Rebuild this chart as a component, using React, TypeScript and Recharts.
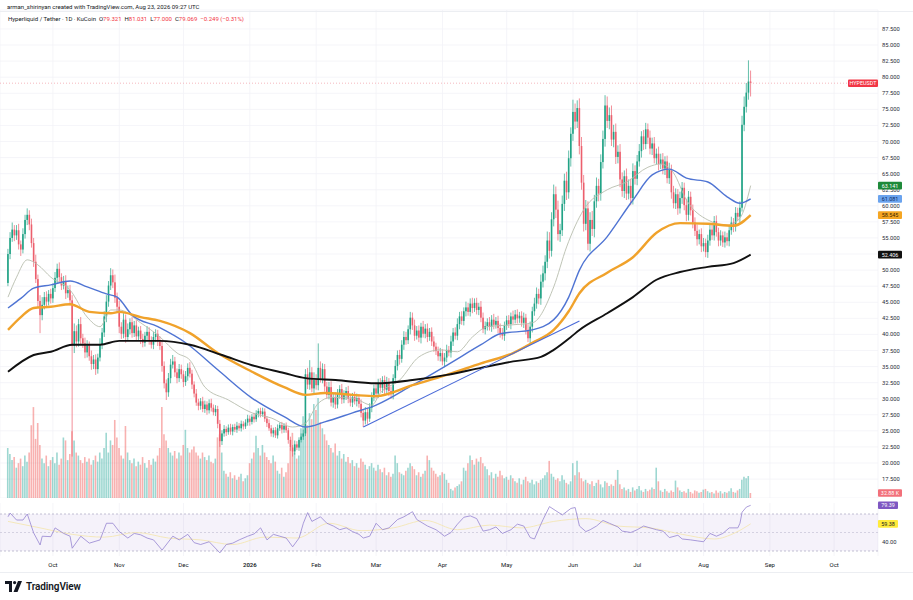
import React from 'react';
import {
  ComposedChart,
  Bar,
  Line,
  XAxis,
  YAxis,
  CartesianGrid,
  ReferenceLine,
  ReferenceArea,
  Cell,
} from 'recharts';

const UP = '#22a386';
const DOWN = '#ec5f6d';
const VOL_UP = 'rgba(38,166,154,0.45)';
const VOL_DOWN = 'rgba(239,83,80,0.45)';

// x is a day index: day 0 = 10 Sep 2025, day 347 = 23 Aug 2026
const X_DOMAIN = [-3.74, 406.5];
const P_DOMAIN = [14.56, 90.45];
const V_DOMAIN = [0, 3220];
const R_DOMAIN = [24.6, 81.9];

const monthTicks = [21, 52, 82, 113, 144, 172, 203, 233, 264, 294, 325, 356, 386];
const monthLabels = ['Oct', 'Nov', 'Dec', '2026', 'Feb', 'Mar', 'Apr', 'May', 'Jun', 'Jul', 'Aug', 'Sep', 'Oct'];
const priceTicks = [
  17.5, 20, 22.5, 25, 27.5, 30, 32.5, 35, 37.5, 40, 42.5, 45, 47.5, 50, 52.5,
  55, 57.5, 60, 62.5, 65, 67.5, 70, 72.5, 75, 77.5, 80, 82.5, 85, 87.5,
];
const rsiTicks = [40];

const firstOpen = 48.0;
const closes = [
  52.5, 55.0, 56.3, 55.4, 56.2, 54.0, 53.2, 55.6, 57.8, 58.6, // 0
  57.1, 54.2, 51.3, 48.6, 45.2, 43.0, 44.6, 45.8, 45.1, 46.3, // 10
  45.6, 47.2, 48.8, 50.2, 48.9, 47.6, 48.3, 46.4, 46.9, 45.3, // 20
  38.2, 40.5, 38.9, 41.6, 39.4, 38.6, 37.2, 38.3, 36.6, 35.4, // 30
  36.1, 34.6, 36.4, 38.5, 40.3, 42.8, 45.1, 47.6, 49.2, 48.1, // 40
  45.7, 44.3, 41.2, 40.1, 42.3, 39.6, 40.8, 41.9, 40.2, 41.4, // 50
  39.7, 40.6, 39.3, 38.7, 39.8, 40.4, 39.1, 38.4, 39.6, 40.1, // 60
  38.9, 38.2, 35.1, 32.4, 31.0, 33.2, 35.3, 35.8, 34.1, 33.2, // 70
  34.6, 33.8, 32.6, 33.5, 34.8, 33.9, 32.2, 30.8, 29.4, 28.9, // 80
  29.6, 28.4, 29.1, 28.2, 29.3, 28.6, 27.9, 28.4, 26.1, 23.4, // 90
  24.6, 25.3, 24.8, 25.5, 24.9, 25.6, 25.2, 25.8, 25.4, 26.1, // 100
  25.7, 26.3, 26.9, 26.4, 27.2, 26.8, 27.7, 28.1, 27.6, 28.0, // 110
  26.9, 26.2, 25.4, 24.6, 25.1, 24.3, 25.4, 25.9, 25.2, 25.8, // 120
  25.1, 23.6, 22.4, 21.8, 22.9, 22.4, 23.6, 24.1, 24.6, 33.8, // 130
  32.2, 34.1, 31.6, 32.9, 32.1, 34.8, 33.1, 34.6, 31.9, 30.6, // 140
  31.8, 29.4, 30.2, 29.1, 30.8, 31.5, 29.9, 30.6, 31.2, 30.0, // 150
  29.4, 30.3, 29.6, 30.1, 29.2, 27.8, 26.6, 27.9, 26.9, 28.6, // 160
  30.2, 31.6, 30.8, 32.4, 31.7, 32.9, 31.4, 32.6, 31.2, 30.7, // 170
  33.2, 35.1, 36.8, 36.2, 38.4, 39.6, 39.1, 40.8, 42.6, 41.4, // 180
  39.8, 40.6, 39.5, 41.2, 40.1, 40.9, 39.6, 40.4, 38.9, 38.1, // 190
  37.4, 36.6, 37.1, 35.8, 36.4, 37.6, 37.2, 38.9, 40.3, 39.8, // 200
  41.6, 42.8, 42.1, 43.6, 44.2, 43.5, 44.8, 44.1, 44.9, 43.8, // 210
  44.3, 42.6, 40.8, 41.3, 41.9, 41.2, 42.3, 41.5, 42.1, 41.0, // 220
  40.2, 39.8, 41.4, 42.2, 41.6, 42.8, 42.3, 43.1, 42.5, 42.9, // 230
  41.8, 42.6, 40.7, 39.4, 41.2, 43.6, 44.8, 46.3, 45.6, 48.2, // 240
  49.5, 51.3, 54.6, 53.0, 57.9, 61.8, 59.4, 55.6, 56.2, 60.3, // 250
  63.9, 62.1, 67.4, 71.2, 74.6, 73.1, 75.2, 69.3, 63.6, 57.2, // 260
  59.6, 54.1, 57.8, 56.4, 60.7, 63.1, 61.9, 66.8, 70.4, 75.6, // 270
  73.2, 74.1, 70.3, 71.5, 67.6, 68.4, 64.1, 62.3, 64.6, 61.9, // 280
  63.1, 61.2, 65.4, 64.2, 66.9, 68.5, 70.8, 69.6, 71.9, 70.6, // 290
  68.9, 69.7, 67.4, 68.1, 66.5, 67.2, 65.8, 66.9, 64.3, 65.6, // 300
  62.1, 60.4, 61.8, 59.6, 61.2, 62.8, 60.1, 58.6, 61.4, 59.3, // 310
  57.4, 56.1, 54.8, 55.6, 53.7, 54.2, 52.8, 54.6, 56.3, 55.4, // 320
  57.6, 55.9, 54.6, 55.4, 54.3, 55.1, 54.5, 56.2, 57.4, 56.8, // 330
  58.9, 58.3, 59.7, 72.6, 75.4, 77.6, 79.321, 79.069, // 340
];

// wick length above max(open, close)
const wickUp = [
  0.8, 0.9, 1.1, 0.7, 0.8, 1.0, 0.6, 0.9, 0.8, 1.0,
  0.7, 0.9, 0.8, 1.1, 0.7, 0.9, 1.2, 0.8, 0.9, 0.6,
  0.8, 0.7, 0.9, 0.8, 1.0, 0.6, 0.8, 0.9, 0.7, 0.8,
  0.8, 1.2, 0.9, 0.8, 1.1, 0.7, 0.9, 0.8, 0.6, 0.9,
  0.7, 0.8, 0.6, 0.9, 0.7, 0.8, 1.0, 0.7, 1.1, 0.9,
  1.2, 0.8, 0.9, 0.7, 1.0, 0.8, 0.9, 0.6, 0.8, 0.7,
  0.8, 0.6, 0.7, 0.8, 0.6, 0.9, 0.7, 0.6, 0.8, 0.7,
  0.6, 0.8, 0.9, 0.7, 0.6, 0.8, 0.9, 1.0, 0.7, 0.6,
  0.8, 0.7, 0.6, 0.8, 0.7, 0.9, 0.6, 0.5, 0.7, 0.6,
  0.5, 0.7, 0.6, 0.5, 0.6, 0.7, 0.5, 0.6, 0.5, 0.6,
  0.5, 0.6, 0.4, 0.5, 0.6, 0.4, 0.5, 0.6, 0.4, 0.5,
  0.4, 0.5, 0.6, 0.5, 0.4, 0.6, 0.5, 0.4, 0.5, 0.6,
  0.5, 0.4, 0.6, 0.5, 0.4, 0.5, 0.6, 0.4, 0.5, 0.4,
  0.5, 0.4, 0.5, 0.4, 0.6, 0.5, 0.4, 0.5, 0.6, 0.8,
  1.0, 1.9, 0.8, 1.2, 0.9, 3.8, 1.0, 0.9, 0.8, 0.7,
  0.8, 0.9, 0.6, 0.8, 0.7, 0.6, 0.8, 0.7, 0.6, 0.8,
  0.7, 0.6, 0.8, 0.7, 0.6, 0.7, 0.5, 0.8, 0.6, 0.7,
  0.8, 0.6, 0.9, 0.7, 0.8, 0.6, 0.7, 0.8, 0.6, 0.7,
  0.6, 0.9, 0.7, 0.8, 0.7, 0.9, 0.8, 0.6, 0.9, 0.8,
  0.9, 0.7, 0.8, 0.6, 0.9, 0.7, 0.8, 0.6, 0.7, 0.8,
  0.6, 0.7, 0.8, 0.6, 0.7, 0.8, 0.6, 0.9, 0.7, 0.8,
  0.9, 0.7, 0.8, 0.6, 0.9, 0.7, 0.8, 0.9, 0.7, 0.8,
  0.6, 0.9, 0.8, 0.7, 0.6, 0.8, 0.7, 0.9, 0.6, 0.8,
  0.7, 0.8, 0.6, 0.7, 0.8, 0.6, 0.9, 0.7, 0.8, 0.6,
  0.7, 0.8, 0.6, 0.9, 0.8, 0.7, 0.9, 1.0, 0.8, 1.1,
  1.2, 1.0, 1.4, 1.3, 1.1, 1.5, 1.2, 1.4, 1.0, 1.3,
  1.1, 1.4, 1.2, 1.0, 1.9, 1.3, 1.2, 1.5, 1.4, 1.2,
  1.3, 1.1, 1.2, 1.4, 1.0, 1.3, 1.1, 1.2, 1.3, 1.6,
  1.4, 1.2, 1.5, 1.1, 1.3, 1.0, 1.2, 1.1, 0.9, 1.2,
  1.0, 1.1, 1.2, 0.9, 1.0, 1.1, 0.8, 1.0, 1.0, 0.9,
  1.1, 0.9, 1.0, 0.8, 1.1, 0.9, 1.0, 0.8, 0.9, 1.1,
  0.8, 1.0, 0.9, 0.8, 1.0, 0.9, 0.8, 1.0, 0.9, 0.8,
  0.9, 0.8, 1.0, 0.7, 0.9, 0.8, 0.7, 0.9, 0.8, 1.0,
  0.8, 0.9, 0.7, 0.8, 0.6, 0.9, 0.7, 0.8, 0.9, 0.7,
  0.9, 0.8, 1.0, 1.4, 1.6, 1.5, 3.3, 1.71,
];

// wick length below min(open, close)
const wickDn = [
  0.5, 0.8, 0.6, 0.9, 0.7, 0.8, 1.0, 0.6, 0.7, 0.8,
  0.9, 0.7, 0.8, 0.6, 1.0, 2.8, 0.8, 0.7, 0.9, 0.6,
  0.8, 0.7, 0.6, 0.9, 0.8, 0.7, 0.6, 0.9, 0.7, 0.8,
  17.2, 1.1, 0.9, 0.8, 1.0, 0.7, 0.9, 0.8, 0.7, 0.9,
  0.8, 0.9, 0.7, 0.6, 0.8, 0.7, 0.9, 0.8, 0.7, 0.9,
  0.8, 0.9, 1.0, 0.8, 0.7, 0.9, 0.6, 0.8, 0.7, 0.6,
  0.7, 0.6, 0.8, 0.7, 0.6, 0.8, 0.7, 0.6, 0.7, 0.8,
  0.7, 0.6, 0.9, 0.8, 1.2, 0.7, 0.8, 0.6, 0.7, 0.8,
  0.6, 0.7, 0.8, 0.6, 0.7, 0.6, 0.7, 0.6, 0.5, 0.7,
  0.6, 0.5, 0.6, 0.7, 0.5, 0.6, 0.5, 0.6, 0.7, 0.9,
  0.6, 0.5, 0.6, 0.4, 0.5, 0.6, 0.4, 0.5, 0.4, 0.5,
  0.5, 0.4, 0.5, 0.6, 0.4, 0.5, 0.4, 0.6, 0.5, 0.4,
  0.5, 0.6, 0.4, 0.5, 0.6, 0.4, 0.5, 0.4, 0.6, 0.5,
  0.4, 0.6, 0.5, 0.8, 0.5, 0.4, 0.5, 0.4, 0.5, 0.4,
  0.7, 0.8, 0.6, 0.9, 0.7, 0.8, 0.6, 0.7, 0.8, 0.6,
  0.7, 0.6, 0.8, 0.7, 0.6, 0.8, 0.7, 0.6, 0.8, 0.7,
  0.6, 0.7, 0.5, 0.8, 0.6, 0.7, 1.0, 0.6, 0.8, 0.5,
  0.7, 0.6, 0.8, 0.7, 0.6, 0.8, 0.7, 0.6, 0.8, 0.7,
  0.8, 0.6, 0.7, 0.9, 0.6, 0.8, 0.7, 0.6, 0.8, 0.7,
  0.8, 0.6, 0.7, 0.9, 0.6, 0.7, 0.8, 0.6, 0.7, 0.8,
  0.6, 0.7, 0.8, 0.6, 0.9, 0.7, 0.6, 0.8, 0.7, 0.6,
  0.7, 0.8, 0.6, 0.7, 0.8, 0.6, 0.7, 0.8, 0.6, 0.7,
  0.8, 0.7, 0.6, 0.8, 0.7, 0.6, 0.8, 0.7, 0.6, 0.8,
  0.7, 0.6, 0.8, 0.7, 0.6, 0.8, 0.7, 0.6, 0.8, 0.7,
  0.6, 0.8, 0.7, 0.6, 0.8, 0.9, 0.7, 0.8, 0.9, 1.0,
  0.9, 1.1, 1.0, 1.2, 0.9, 1.1, 1.3, 1.0, 1.2, 0.9,
  1.1, 1.2, 1.0, 1.3, 1.1, 1.2, 1.0, 1.3, 1.1, 1.2,
  1.0, 1.0, 1.2, 1.1, 1.3, 1.0, 1.2, 1.1, 1.0, 1.2,
  1.1, 1.3, 1.0, 1.2, 1.1, 1.0, 1.2, 0.9, 1.1, 1.0,
  0.9, 1.1, 1.0, 0.9, 1.0, 0.8, 1.0, 0.9, 0.8, 1.0,
  0.9, 1.0, 0.8, 0.9, 1.0, 0.8, 0.9, 1.0, 0.8, 0.9,
  1.0, 0.8, 0.9, 1.0, 0.8, 0.9, 0.8, 1.0, 0.9, 0.8,
  0.9, 0.8, 1.0, 0.8, 0.9, 0.8, 0.8, 0.9, 0.8, 0.7,
  0.8, 0.7, 0.9, 0.8, 0.7, 0.8, 0.7, 0.8, 0.7, 0.9,
  0.8, 0.7, 0.9, 0.6, 1.0, 0.9, 1.1, 2.069,
];

// volume, thousands
const volumes = [
  330, 290, 250, 270, 200, 230, 260, 210, 280, 240,
  300, 480, 600, 390, 495, 350, 260, 230, 280, 210,
  250, 270, 230, 300, 220, 260, 400, 380, 250, 290,
  440, 380, 300, 280, 250, 230, 270, 240, 260, 220,
  250, 280, 240, 300, 260, 330, 430, 300, 380, 350,
  515, 400, 330, 280, 260, 475, 300, 250, 230, 260,
  210, 240, 220, 270, 230, 200, 250, 220, 260, 240,
  280, 330, 600, 420, 380, 330, 300, 280, 310, 260,
  300, 280, 350, 450, 330, 300, 320, 340, 300, 280,
  260, 300, 270, 250, 280, 240, 230, 260, 400, 420,
  300, 180, 160, 140, 170, 130, 150, 120, 140, 160,
  110, 130, 150, 230, 260, 300, 410, 330, 280, 350,
  300, 270, 250, 230, 280, 240, 180, 160, 200, 140,
  170, 230, 330, 430, 300, 260, 280, 460, 540, 500,
  480, 560, 520, 620, 580, 660, 500, 460, 420, 380,
  350, 330, 300, 360, 280, 310, 260, 290, 240, 270,
  230, 250, 210, 230, 200, 260, 240, 220, 190, 210,
  230, 200, 180, 220, 190, 170, 200, 150, 170, 140,
  160, 280, 230, 170, 160, 150, 180, 200, 230, 210,
  190, 150, 170, 140, 160, 180, 280, 250, 200, 180,
  160, 140, 150, 170, 160, 120, 100, 60, 50, 70,
  80, 90, 110, 200, 180, 230, 280, 250, 220, 260,
  240, 270, 230, 210, 190, 150, 170, 130, 160, 140,
  180, 150, 130, 140, 120, 150, 130, 110, 100, 130,
  90, 120, 140, 110, 100, 120, 90, 110, 100, 120,
  130, 150, 170, 245, 160, 140, 120, 130, 110, 150,
  120, 100, 90, 110, 230, 150, 245, 170, 130, 110,
  120, 100, 90, 110, 80, 100, 120, 90, 70, 110,
  100, 80, 90, 80, 120, 185, 90, 60, 70, 50,
  60, 40, 70, 50, 60, 80, 50, 40, 60, 45,
  55, 70, 60, 200, 110, 50, 40, 60, 45, 35,
  50, 40, 115, 70, 50, 40, 45, 35, 60, 40,
  30, 50, 45, 35, 40, 55, 60, 45, 35, 40,
  30, 50, 35, 45, 30, 40, 35, 45, 65, 40,
  35, 50, 60, 120, 140, 130, 145, 32.88,
];

// moving averages, [day, value]
const ema20Pts = [
  [0, 45.8], [4, 48.9], [9, 51.6], [14, 50.8], [20, 48.9], [29, 46.9], [37, 42.7], [43, 41.2],
  [48, 43.8], [52, 43.8], [62, 41.8], [71, 39.6], [79, 37.1], [85, 36.0], [92, 31.8], [103, 29.8],
  [114, 27.8], [123, 27.0], [133, 25.6], [139, 26.2], [145, 29.3], [151, 30.2], [161, 30.1],
  [170, 29.0], [174, 30.9], [183, 32.9], [192, 36.5], [202, 37.6], [210, 37.3], [217, 39.6],
  [224, 41.2], [236, 41.5], [245, 41.8], [255, 47.4], [261, 53.6], [269, 59.4], [280, 62.5],
  [289, 63.7], [299, 66.0], [305, 66.5], [311, 65.1], [317, 60.9], [327, 57.8], [336, 57.0],
  [342, 58.1], [347, 63.141],
];
const ema50Pts = [
  [0, 44.1], [6, 45.6], [12, 47.2], [20, 47.7], [29, 48.3], [37, 47.4], [46, 46.3], [51, 45.8],
  [58, 43.0], [70, 41.2], [83, 38.7], [98, 34.5], [114, 30.1], [129, 27.2], [139, 25.6],
  [148, 26.4], [161, 27.8], [172, 29.0], [189, 32.1], [205, 35.2], [221, 38.4], [230, 40.1],
  [245, 40.7], [255, 42.3], [262, 45.8], [267, 50.0], [280, 55.2], [292, 60.9], [301, 64.8],
  [309, 65.7], [317, 64.3], [327, 63.7], [336, 61.4], [342, 60.4], [347, 61.081],
];
const ema100Pts = [
  [0, 40.7], [6, 42.7], [12, 44.1], [20, 44.3], [29, 44.7], [38, 43.5], [48, 43.3], [52, 43.5],
  [62, 42.7], [71, 42.1], [85, 40.2], [98, 37.1], [114, 34.2], [129, 31.8], [139, 30.6],
  [148, 30.9], [161, 30.6], [172, 30.4], [189, 32.1], [205, 33.7], [221, 35.5], [236, 37.1],
  [245, 38.7], [255, 40.7], [262, 43.6], [267, 46.4], [280, 49.6], [292, 52.0], [303, 55.8],
  [314, 57.3], [327, 57.2], [339, 56.9], [347, 58.545],
];
const ema200Pts = [
  [0, 34.2], [12, 36.8], [20, 37.3], [30, 38.4], [43, 38.4], [52, 39.0], [71, 39.0], [85, 38.4],
  [100, 36.8], [114, 35.2], [129, 34.0], [139, 33.2], [153, 32.9], [172, 32.4], [189, 32.9],
  [205, 33.7], [221, 34.8], [236, 35.8], [249, 36.5], [255, 37.6], [263, 39.6], [267, 40.7],
  [280, 43.3], [292, 45.8], [303, 48.5], [314, 49.7], [327, 50.5], [339, 51.1], [347, 52.406],
];
const trendPts = [
  { x: 166, y: 25.6 },
  { x: 267, y: 42.1 },
];

const rsiPts = [
  [0, 67], [1, 71], [4, 63.5], [7, 63.5], [9, 70], [12, 49.5], [15, 36.5], [16, 46], [20, 45.5],
  [22, 55], [26, 49], [29, 46], [30, 33], [34, 46], [38, 38.5], [43, 42], [46, 60], [49, 60],
  [52, 51], [56, 44], [59, 49], [62, 47.5], [65, 44], [68, 42], [72, 31], [77, 46], [80, 42],
  [84, 48], [87, 39], [90, 37], [94, 40], [99, 28], [102, 37], [105, 38.5], [108, 42], [112, 46],
  [115, 48.5], [118, 55], [121, 42], [124, 48], [127, 46], [130, 44], [133, 34.5], [136, 44],
  [138, 60], [140, 71.5], [142, 62], [146, 67], [149, 60], [152, 57], [155, 53], [158, 55],
  [161, 51], [164, 48], [166, 44], [169, 46], [172, 60], [175, 53], [178, 55], [182, 64],
  [185, 67], [189, 72.5], [191, 64], [196, 57], [200, 53], [204, 46], [207, 50], [210, 59],
  [213, 66.5], [216, 68], [219, 65], [222, 51.5], [225, 53], [228, 56], [231, 49], [235, 53],
  [238, 59], [241, 57], [244, 44.5], [246, 43], [249, 59], [250, 64], [253, 78], [256, 73.5],
  [259, 69], [263, 76], [265, 77], [267, 57], [270, 51], [272, 53], [275, 57], [278, 63],
  [281, 60], [285, 56], [287, 51.5], [291, 50], [294, 53], [297, 57], [300, 55], [303, 53],
  [306, 51.5], [309, 44.5], [313, 47], [315, 43], [319, 42], [322, 41], [325, 40], [328, 49],
  [331, 46], [334, 49], [337, 55], [341, 55], [342, 60], [343, 72], [345, 77.5], [347, 79.39],
];
const rsiMaPts = [
  [0, 62], [15, 55], [30, 48], [45, 45], [60, 50], [75, 44], [90, 42], [105, 37], [120, 45],
  [135, 44], [150, 60], [165, 52], [180, 55], [195, 63], [210, 53], [225, 58], [240, 55],
  [255, 62], [270, 65], [285, 57], [300, 55], [315, 48], [330, 43], [340, 50], [347, 59.38],
];

const rows: any[] = closes.map((c, i) => {
  const o = i === 0 ? firstOpen : closes[i - 1];
  return {
    d: i,
    o,
    c,
    range: [Math.min(o, c) - wickDn[i], Math.max(o, c) + wickUp[i]],
    vol: volumes[i],
    up: c >= o,
  };
});
const put = (target: any[], pts: number[][], key: string) =>
  pts.forEach(([d, v]) => {
    target[d][key] = v;
  });
put(rows, ema20Pts, 'ema20');
put(rows, ema50Pts, 'ema50');
put(rows, ema100Pts, 'ema100');
put(rows, ema200Pts, 'ema200');

const rsiRows: any[] = closes.map((_, i) => ({ d: i }));
put(rsiRows, rsiPts, 'rsi');
put(rsiRows, rsiMaPts, 'rsiMa');

const Candle = (props: any) => {
  const { x, y, width, height, payload } = props;
  if (!payload || height == null) return null;
  const [lo, hi] = payload.range;
  const top = Math.min(y, y + height);
  const h = Math.abs(height);
  const k = hi === lo ? 0 : h / (hi - lo);
  const yO = top + (hi - payload.o) * k;
  const yC = top + (hi - payload.c) * k;
  const cx = x + width / 2;
  const color = payload.up ? UP : DOWN;
  return (
    <g>
      <line x1={cx} x2={cx} y1={top} y2={top + h} stroke={color} strokeWidth={0.7} />
      <rect
        x={cx - 0.8}
        y={Math.min(yO, yC)}
        width={1.6}
        height={Math.max(Math.abs(yO - yC), 0.7)}
        fill={color}
      />
    </g>
  );
};

// label drawn on the price scale, right of the plot
const badge = (text: string, bg: string, fg: string, w = 24, dx = 0) => (props: any) => {
  const vb = props.viewBox || {};
  const x = (vb.x || 0) + (vb.width || 0) + dx;
  const y = vb.y || 0;
  return (
    <g>
      <rect x={x} y={y - 3.8} width={w} height={7.6} rx={1} fill={bg} />
      <text x={x + w / 2} y={y + 2} textAnchor="middle" fontSize={5.4} fill={fg}>
        {text}
      </text>
    </g>
  );
};

const MonthTick = (props: any) => {
  const { x, y, payload } = props;
  const label = monthLabels[monthTicks.indexOf(payload.value)];
  return (
    <text
      x={x}
      y={y + 5}
      textAnchor="middle"
      fontSize={6}
      fill="#131722"
      fontWeight={label === '2026' ? 600 : 400}
    >
      {label}
    </text>
  );
};

const red = { color: '#f23645' };

const App = () => {
  return (
    <div
      style={{
        position: 'absolute',
        left: 0,
        top: 0,
        width: 913,
        height: 600,
        overflow: 'hidden',
        background: '#fff',
        fontFamily: 'Roboto, "Noto Sans", sans-serif',
        color: '#131722',
      }}
    >
      {/* volume, grid and price scale */}
      <div style={{ position: 'absolute', left: 0, top: 0 }}>
        <ComposedChart width={913} height={498} data={rows} margin={{ top: 10, right: 0, bottom: 0, left: 0 }}>
          <CartesianGrid yAxisId="p" stroke="#f2f3f7" strokeWidth={0.8} />
          <XAxis dataKey="d" type="number" domain={X_DOMAIN} ticks={monthTicks} allowDataOverflow hide />
          <YAxis
            yAxisId="p"
            orientation="right"
            width={35}
            domain={P_DOMAIN}
            ticks={priceTicks}
            interval={0}
            allowDataOverflow
            axisLine={false}
            tickLine={false}
            tickSize={4}
            tickMargin={0}
            tick={{ fontSize: 5.8, fill: '#2a2e39' }}
            tickFormatter={(v: number) => v.toFixed(3)}
          />
          <YAxis yAxisId="v" hide domain={V_DOMAIN} allowDataOverflow />
          <Bar yAxisId="v" dataKey="vol" barSize={1.6} isAnimationActive={false}>
            {rows.map((r) => (
              <Cell key={`vol-${r.d}`} fill={r.up ? VOL_UP : VOL_DOWN} />
            ))}
          </Bar>
        </ComposedChart>
      </div>

      {/* candles, moving averages, labels */}
      <div style={{ position: 'absolute', left: 0, top: 0 }}>
        <ComposedChart width={913} height={498} data={rows} margin={{ top: 10, right: 35, bottom: 0, left: 0 }}>
          <XAxis dataKey="d" type="number" domain={X_DOMAIN} ticks={monthTicks} allowDataOverflow hide />
          <YAxis yAxisId="p" hide domain={P_DOMAIN} allowDataOverflow />
          <YAxis yAxisId="v" hide domain={V_DOMAIN} allowDataOverflow />
          <ReferenceLine
            yAxisId="p"
            y={79.069}
            stroke="#f3a6ad"
            strokeDasharray="1 2"
            strokeWidth={0.8}
            label={badge('HYPEUSDT', '#f23645', '#fff', 30, -30)}
          />
          <Bar
            yAxisId="p"
            dataKey="range"
            barSize={2}
            isAnimationActive={false}
            shape={(p: any) => <Candle {...p} />}
          />
          <Line yAxisId="p" dataKey="ema20" type="monotone" stroke="#b8bdae" strokeWidth={0.9} dot={false} connectNulls isAnimationActive={false} />
          <Line yAxisId="p" dataKey="ema50" type="monotone" stroke="#4f74d3" strokeWidth={1.4} dot={false} connectNulls isAnimationActive={false} />
          <Line yAxisId="p" dataKey="ema100" type="monotone" stroke="#f0a22b" strokeWidth={2.4} dot={false} connectNulls isAnimationActive={false} />
          <Line yAxisId="p" dataKey="ema200" type="monotone" stroke="#111111" strokeWidth={1.9} dot={false} connectNulls isAnimationActive={false} />
          <ReferenceLine yAxisId="p" segment={trendPts} stroke="#4a6ad8" strokeWidth={1.1} />
          <ReferenceLine yAxisId="p" y={63.141} stroke="none" label={badge('63.141', '#1e8a3a', '#fff')} />
          <ReferenceLine yAxisId="p" y={61.081} stroke="none" label={badge('61.081', '#6aa3ee', '#0d2a5c')} />
          <ReferenceLine yAxisId="p" y={58.545} stroke="none" label={badge('58.545', '#f5a623', '#3a2500')} />
          <ReferenceLine yAxisId="p" y={52.406} stroke="none" label={badge('52.406', '#111111', '#fff')} />
          <ReferenceLine yAxisId="v" y={32.88} stroke="none" label={badge('32.88 K', '#f2707a', '#fff')} />
        </ComposedChart>
      </div>

      {/* RSI pane and time scale */}
      <div style={{ position: 'absolute', left: 0, top: 500 }}>
        <ComposedChart width={913} height={75} data={rsiRows} margin={{ top: 3, right: 0, bottom: 0, left: 0 }}>
          <CartesianGrid yAxisId="r" horizontal={false} stroke="#f2f3f7" strokeWidth={0.8} />
          <XAxis
            dataKey="d"
            type="number"
            domain={X_DOMAIN}
            ticks={monthTicks}
            interval={0}
            allowDataOverflow
            axisLine={false}
            tickLine={false}
            tickSize={4}
            tickMargin={2}
            height={19}
            tick={(p: any) => <MonthTick {...p} />}
          />
          <YAxis
            yAxisId="r"
            orientation="right"
            width={35}
            domain={R_DOMAIN}
            ticks={rsiTicks}
            allowDataOverflow
            axisLine={false}
            tickLine={false}
            tickSize={4}
            tickMargin={0}
            tick={{ fontSize: 5.8, fill: '#2a2e39' }}
            tickFormatter={(v: number) => v.toFixed(2)}
          />
          <ReferenceArea yAxisId="r" y1={30} y2={70} fill="#7e57c2" fillOpacity={0.08} stroke="none" />
          <ReferenceLine yAxisId="r" y={70} stroke="#aaa6c0" strokeDasharray="2 2" strokeWidth={0.7} />
          <ReferenceLine yAxisId="r" y={50} stroke="#c6c3d6" strokeDasharray="2 2" strokeWidth={0.7} />
          <ReferenceLine yAxisId="r" y={30} stroke="#aaa6c0" strokeDasharray="2 2" strokeWidth={0.7} />
          <Line yAxisId="r" dataKey="rsiMa" type="monotone" stroke="#f4e6b4" strokeWidth={0.9} dot={false} connectNulls isAnimationActive={false} />
          <Line yAxisId="r" dataKey="rsi" type="linear" stroke="#9584d0" strokeWidth={0.8} dot={false} connectNulls isAnimationActive={false} />
          <ReferenceLine yAxisId="r" y={79.39} stroke="none" label={badge('79.39', '#7e57c2', '#fff', 20)} />
          <ReferenceLine yAxisId="r" y={59.38} stroke="none" label={badge('59.38', '#ffeb3b', '#131722', 20)} />
        </ComposedChart>
      </div>

      {/* header */}
      <div style={{ position: 'absolute', left: 7, top: 3, fontSize: 6, whiteSpace: 'nowrap' }}>
        arman_shirinyan created with TradingView.com, Aug 23, 2026 09:27 UTC
      </div>
      <div style={{ position: 'absolute', left: 0, top: 11, width: 913, height: 1, background: '#eceef2' }} />
      <div style={{ position: 'absolute', left: 8, top: 15, fontSize: 6, whiteSpace: 'nowrap' }}>
        Hyperliquid / Tether · 1D · KuCoin&nbsp;&nbsp;O<span style={red}>79.321</span>&nbsp;&nbsp;H
        <span style={red}>81.031</span>&nbsp;&nbsp;L<span style={red}>77.000</span>&nbsp;&nbsp;C
        <span style={red}>79.069</span>&nbsp;&nbsp;<span style={red}>−0.249 (−0.31%)</span>
      </div>

      {/* footer */}
      <div style={{ position: 'absolute', left: 0, top: 572, width: 913, height: 1, background: '#eceef2' }} />
      <div style={{ position: 'absolute', left: 5, top: 581, display: 'flex', alignItems: 'center' }}>
        <svg width={18} height={11} viewBox="0 0 18 11">
          <path d="M0 0 H7 V11 H4 V3 H0 Z" fill="#131722" />
          <circle cx={9.6} cy={1.6} r={1.6} fill="#131722" />
          <path d="M13 0 H17 L12.5 11 H8.5 Z" fill="#131722" />
        </svg>
        <span style={{ marginLeft: 3, fontSize: 10, fontWeight: 600, letterSpacing: -0.1 }}>TradingView</span>
      </div>
    </div>
  );
};

export default App;
